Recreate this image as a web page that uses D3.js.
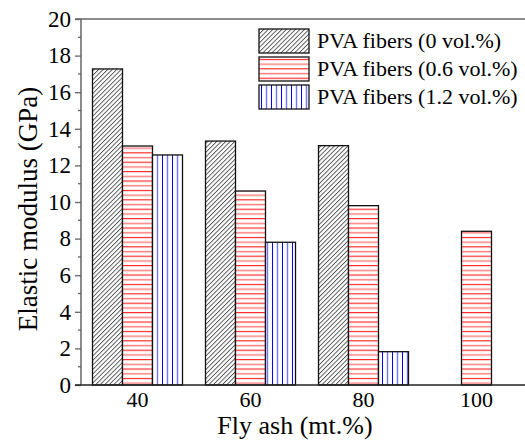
<!DOCTYPE html>
<html>
<head>
<meta charset="UTF-8">
<script src="https://d3js.org/d3.v7.min.js"></script>
</head>
<body style="margin:0">
<script>
// fly ash content (mt.%) and elastic modulus (GPa) per fibre dosage
var flyAsh = [40, 60, 80, 100];
var series = ["PVA fibers (0 vol.%)", "PVA fibers (0.6 vol.%)", "PVA fibers (1.2 vol.%)"];
var fiber0 = [17.27, 13.33, 13.08, null];
var fiber06 = [13.06, 10.6, 9.8, 8.4];
var fiber12 = [12.57, 7.8, 1.82, null];
var yTicks = [0, 2, 4, 6, 8, 10, 12, 14, 16, 18, 20];

var W = 525, H = 441;
var FONT = "Liberation Serif";
var svg = d3.select("body").append("svg").attr("width", W).attr("height", H)
  .attr("font-family", FONT);

var x = d3.scaleLinear().domain([30, 110]).range([81, 533]);
var y = d3.scaleLinear().domain([0, 20]).range([385, 19]);
var barW = 30;

// patterns
var defs = svg.append("defs");
var p1 = defs.append("pattern").attr("id", "hatch").attr("patternUnits", "userSpaceOnUse")
  .attr("width", 3.2).attr("height", 6).attr("patternTransform", "rotate(45)");
p1.append("rect").attr("width", 3.2).attr("height", 6).attr("fill", "#fff");
p1.append("line").attr("x1", 0.5).attr("y1", 0).attr("x2", 0.5).attr("y2", 6)
  .attr("stroke", "#000").attr("stroke-width", 0.7);

var p2 = defs.append("pattern").attr("id", "horiz").attr("patternUnits", "userSpaceOnUse")
  .attr("width", 10).attr("height", 9.4);
p2.append("rect").attr("width", 10).attr("height", 9.4).attr("fill", "#fff");
p2.append("line").attr("x1", 0).attr("y1", 2.5).attr("x2", 10).attr("y2", 2.5)
  .attr("stroke", "#ff0000").attr("stroke-width", 1);
p2.append("line").attr("x1", 0).attr("y1", 7.2).attr("x2", 10).attr("y2", 7.2)
  .attr("stroke", "#ff0000").attr("stroke-width", 1.5).attr("stroke-opacity", 0.5);

var p3 = defs.append("pattern").attr("id", "vert").attr("patternUnits", "userSpaceOnUse")
  .attr("width", 10).attr("height", 10);
p3.append("rect").attr("width", 10).attr("height", 10).attr("fill", "#fff");
p3.append("line").attr("x1", 2.5).attr("y1", 0).attr("x2", 2.5).attr("y2", 10)
  .attr("stroke", "#0000ff").attr("stroke-width", 1);
p3.append("line").attr("x1", 7.5).attr("y1", 0).attr("x2", 7.5).attr("y2", 10)
  .attr("stroke", "#0000ff").attr("stroke-width", 1.4).attr("stroke-opacity", 0.55);

var fills = ["url(#hatch)", "url(#horiz)", "url(#vert)"];
var allData = [fiber0, fiber06, fiber12];

// bars
allData.forEach(function (vals, si) {
  var rows = flyAsh.map(function (f, i) { return { f: f, v: vals[i] }; })
    .filter(function (d) { return d.v != null; });
  svg.append("g").selectAll("rect").data(rows).enter().append("rect")
    .attr("x", function (d) { return x(d.f) + (si - 1.5) * barW; })
    .attr("y", function (d) { return y(d.v); })
    .attr("width", barW)
    .attr("height", function (d) { return y(0) - y(d.v); })
    .attr("fill", fills[si])
    .attr("stroke", "#111").attr("stroke-width", 1.3);
});

// y axis ticks and labels
var yAxis = svg.append("g").attr("transform", "translate(81,0)")
  .call(d3.axisLeft(y).tickValues(yTicks).tickSize(6).tickSizeOuter(0).tickPadding(4));
yAxis.attr("font-family", FONT).attr("font-size", 23);
yAxis.select(".domain").remove();
yAxis.selectAll(".tick line").attr("stroke", "#666").attr("stroke-width", 1.3);
yAxis.selectAll("text").attr("fill", "#000");
svg.append("g").selectAll("line").data(d3.range(1, 20, 2)).enter().append("line")
  .attr("x1", 78).attr("x2", 81)
  .attr("y1", function (d) { return y(d); }).attr("y2", function (d) { return y(d); })
  .attr("stroke", "#666").attr("stroke-width", 1.3);

// frame lines
svg.append("line").attr("x1", 81).attr("x2", 81).attr("y1", y(20)).attr("y2", y(0))
  .attr("stroke", "#666").attr("stroke-width", 1.5);
svg.append("line").attr("x1", 75).attr("x2", W).attr("y1", y(20)).attr("y2", y(20))
  .attr("stroke", "#666").attr("stroke-width", 1.5);
svg.append("line").attr("x1", 75).attr("x2", W).attr("y1", y(0)).attr("y2", y(0))
  .attr("stroke", "#222").attr("stroke-width", 1.5);

// x tick labels
svg.append("g").selectAll("text").data(flyAsh).enter().append("text")
  .attr("x", function (d) { return x(d); }).attr("y", 407)
  .attr("text-anchor", "middle").attr("font-size", 22).attr("font-family", FONT)
  .text(function (d) { return d; });

// axis titles
svg.append("text").attr("x", 295).attr("y", 434).attr("text-anchor", "middle")
  .attr("font-size", 26).attr("font-family", FONT).text("Fly ash (mt.%)");
svg.append("text").attr("transform", "translate(37,209) rotate(-90)")
  .attr("text-anchor", "middle").attr("font-size", 27).attr("font-family", FONT)
  .text("Elastic modulus (GPa)");

// legend
var lg = svg.append("g").attr("transform", "translate(259,29)");
series.forEach(function (s, i) {
  var row = lg.append("g").attr("transform", "translate(0," + (i * 28) + ")");
  row.append("rect").attr("width", 50).attr("height", 24)
    .attr("fill", fills[i]).attr("stroke", "#111").attr("stroke-width", 1.3);
  row.append("text").attr("x", 58).attr("y", 19).attr("font-size", 22)
    .attr("font-family", FONT).text(s);
});
</script>
</body>
</html>
